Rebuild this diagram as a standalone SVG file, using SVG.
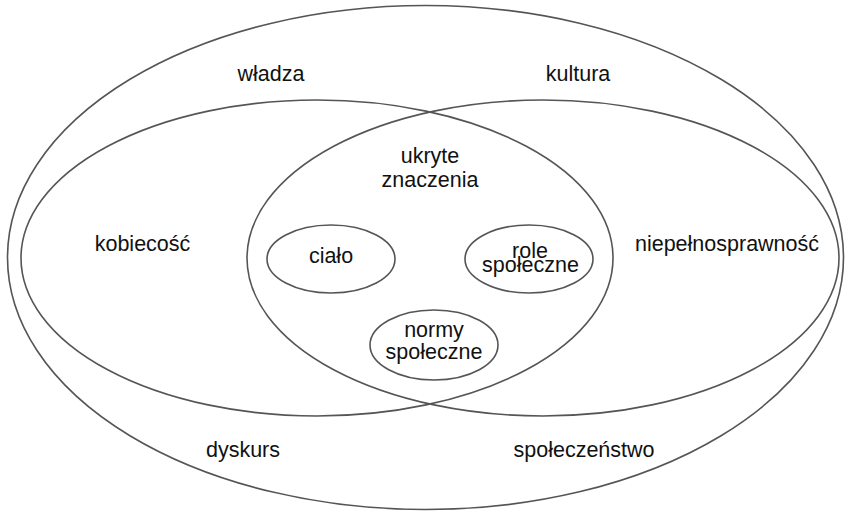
<svg xmlns="http://www.w3.org/2000/svg" width="845" height="514" viewBox="0 0 845 514">
<style>
.e{fill:none;stroke:#555;stroke-width:1.6}
text{font-family:"Liberation Sans",Arial,sans-serif;font-size:21.5px;fill:#111;text-anchor:middle}
</style>
<rect width="845" height="514" fill="#fff"/>
<g id="outer"><ellipse class="e" cx="425.5" cy="257.5" rx="418" ry="252"/>
<text x="271" y="81">władza</text><text x="578" y="81">kultura</text>
<text x="243" y="457">dyskurs</text><text x="584" y="457">społeczeństwo</text></g>
<g id="left"><ellipse class="e" cx="317" cy="258" rx="296" ry="158"/><text x="142.5" y="251">kobiecość</text></g>
<g id="right"><ellipse class="e" cx="543" cy="258" rx="296" ry="158"/><text x="727" y="251">niepełnosprawność</text></g>
<g id="center"><text x="430" y="163">ukryte</text><text x="430" y="187">znaczenia</text></g>
<g id="cialo"><ellipse class="e" cx="331" cy="259" rx="64" ry="34"/><text x="331" y="263">ciało</text></g>
<g id="role"><ellipse class="e" cx="529" cy="259" rx="64" ry="34"/><text x="530" y="258">role</text><text x="530.5" y="272">społeczne</text></g>
<g id="normy"><ellipse class="e" cx="434" cy="345" rx="64" ry="35"/><text x="434" y="337">normy</text><text x="434" y="359">społeczne</text></g>
<g id="connectors"/>
</svg>
